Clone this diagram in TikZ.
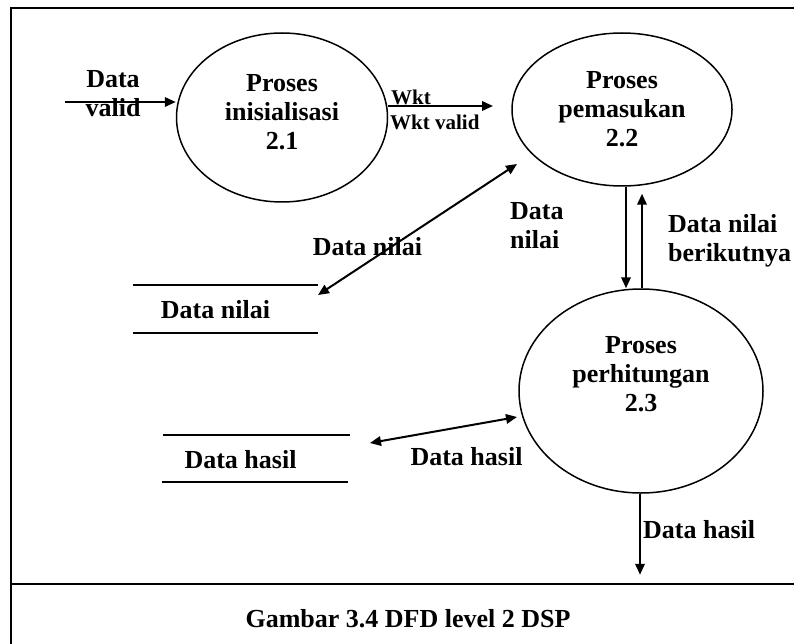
\documentclass[tikz,border=0pt]{standalone}
\usepackage{fontspec}
\setmainfont{Liberation Serif}
\usetikzlibrary{shapes.geometric,arrows.meta,calc}
\begin{document}
\begin{tikzpicture}[x=1pt,y=-1pt,
  every node/.style={font=\fontsize{26}{29}\selectfont\bfseries, inner sep=0pt},
  proc/.style={draw, ellipse, line width=1.5pt, align=center},
  arr/.style={line width=2pt, -{Triangle[length=11pt,width=9.5pt]}},
  darr/.style={line width=2pt, {Triangle[length=11pt,width=9.5pt]}-{Triangle[length=11pt,width=9.5pt]}},
  storeline/.style={line width=1.8pt},
  framel/.style={line width=2.2pt},
  small/.style={font=\fontsize{21}{24}\selectfont\bfseries},
]
\useasboundingbox (0,0) rectangle (794,644);
% frame
\draw[framel] (800,8) -- (11,8) -- (11,650);
\draw[framel] (11,584) -- (800,584);

% processes
\node[proc, minimum width=211pt, minimum height=169pt] (p21) at (282,117.5)
  {Proses\\inisialisasi\\2.1\rule[-11pt]{0pt}{0pt}};
\node[proc, minimum width=220pt, minimum height=153pt] (p22) at (622,109.5)
  {Proses\\pemasukan\\2.2};
\node[proc, minimum width=244pt, minimum height=204pt] (p23) at (641,391)
  {Proses\\perhitungan\\2.3\rule[-34pt]{0pt}{0pt}};

% data stores
\node[anchor=base] (s1) at (215.5,318) {Data nilai};
\draw[storeline] ($(s1.base)+(-82.5,-33)$) -- ($(s1.base)+(102.5,-33)$);
\draw[storeline] ($(s1.base)+(-82.5,15)$) -- ($(s1.base)+(102.5,15)$);
\node[anchor=base] (s2) at (240.5,468) {Data hasil};
\draw[storeline] ($(s2.base)+(-77.5,-33)$) -- ($(s2.base)+(109.5,-33)$);
\draw[storeline] ($(s2.base)+(-78.5,14)$) -- ($(s2.base)+(107.5,14)$);

% labels
\node[align=center] (lvalid) at (113,94) {Data\\valid};
\node[small, anchor=base west] (lwkt) at (391,105) {Wkt};
\node[small, anchor=base west] (lwktv) at (390,130) {Wkt valid};
\node[anchor=base] (lnilai1) at (367.5,255) {Data nilai};
\node[align=left, anchor=west] (lnilai2) at (510,226) {Data\\nilai};
\node[align=left, anchor=west] (lberik) at (668,241) {Data nilai\\berikutnya};
\node[anchor=base] (lhasil1) at (466.5,465) {Data hasil};
\node[anchor=base west] (lhasil2) at (643,538) {Data hasil};
\node[anchor=base] (cap) at (408,627) {Gambar 3.4 DFD level 2 DSP};

% free ends
\coordinate (dvin) at (65,102);
\coordinate (wk) at (493,106);
\coordinate (dnA) at (517,164);
\coordinate (dnB) at ($(s1.base)+(102.5,-23)$);
\coordinate (dhA) at (517,417);
\coordinate (dhB) at ($(s2.base)+(129.5,-25)$);

% connectors
\draw[arr] (dvin) -- (dvin -| p21.west);
\draw[arr] (wk -| p21.east) -- (wk);
\draw[darr] (dnB) -- (dnA);
\draw[arr] ([xshift=4pt]p22.south) -- ([xshift=-15pt]p23.north);
\draw[arr, shorten >=7pt] ([xshift=1pt]p23.north) -- ([xshift=20pt]p22.south);
\draw[darr] (dhB) -- (dhA);
\draw[arr] ([xshift=-1pt]p23.south) -- ++(0,81);
\end{tikzpicture}
\end{document}
